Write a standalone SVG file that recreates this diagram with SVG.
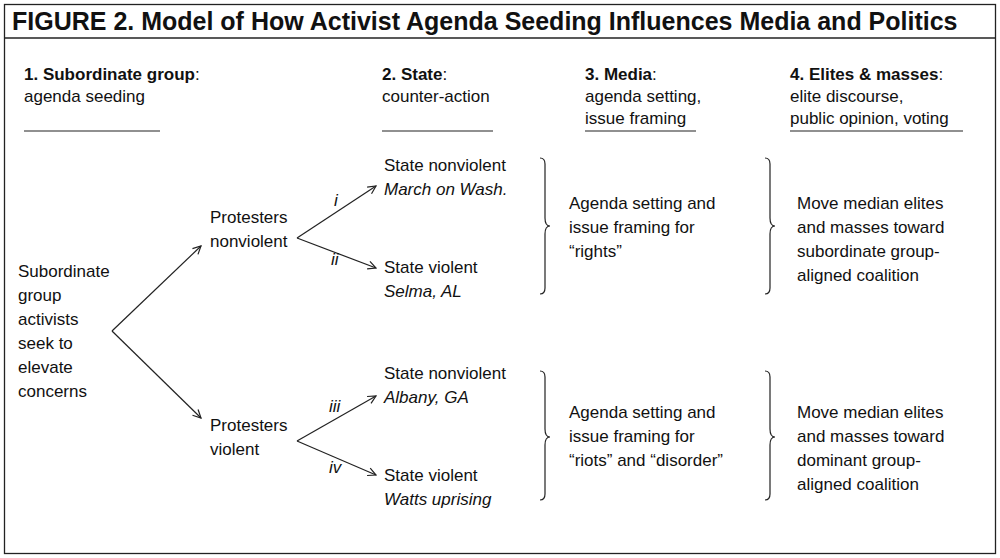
<svg xmlns="http://www.w3.org/2000/svg" width="1000" height="558" viewBox="0 0 1000 558">
<style>
text{font-family:"Liberation Sans",Arial,sans-serif;font-size:17px;fill:#111}
.b{font-weight:bold}
.i{font-style:italic}
.ln{stroke:#222;stroke-width:1.2;fill:none}
</style>
<defs>
<marker id="a" markerWidth="10" markerHeight="10" refX="9" refY="5" orient="auto" markerUnits="userSpaceOnUse">
<path d="M1,1 L9,5 L1,9" fill="none" stroke="#222" stroke-width="1.2"/>
</marker>
</defs>
<rect x="0" y="0" width="1000" height="558" fill="#fff"/>
<rect x="4.5" y="4.5" width="991" height="549" fill="none" stroke="#222" stroke-width="1.3"/>
<line x1="4" y1="38" x2="996" y2="38" stroke="#222" stroke-width="1.3"/>
<text x="12" y="30" class="b" style="font-size:25px">FIGURE 2. Model of How Activist Agenda Seeding Influences Media and Politics</text>
<g id="headers">
<text x="24" y="80"><tspan class="b">1.  Subordinate group</tspan>:</text>
<text x="24" y="102">agenda seeding</text>
<line class="ln" x1="24" y1="131" x2="160" y2="131"/>
<text x="382" y="80"><tspan class="b">2.  State</tspan>:</text>
<text x="382" y="102">counter-action</text>
<line class="ln" x1="382" y1="131" x2="493" y2="131"/>
<text x="585" y="80"><tspan class="b">3.  Media</tspan>:</text>
<text x="585" y="102">agenda setting,</text>
<text x="585" y="124">issue framing</text>
<line class="ln" x1="585" y1="131" x2="696" y2="131"/>
<text x="790" y="80"><tspan class="b">4.  Elites &amp; masses</tspan>:</text>
<text x="790" y="102">elite discourse,</text>
<text x="790" y="124">public opinion, voting</text>
<line class="ln" x1="790" y1="131" x2="963" y2="131"/>
</g>
<g id="n-start"><text x="18" y="277">Subordinate</text><text x="18" y="301">group</text><text x="18" y="325">activists</text><text x="18" y="349">seek to</text><text x="18" y="373">elevate</text><text x="18" y="397">concerns</text></g>
<g id="n-pn"><text x="210" y="223">Protesters</text><text x="210" y="247">nonviolent</text></g>
<g id="n-pv"><text x="210" y="431">Protesters</text><text x="210" y="455">violent</text></g>
<g id="n-s1"><text x="384" y="171">State nonviolent</text><text x="384" y="195" class="i">March on Wash.</text></g>
<g id="n-s2"><text x="384" y="273">State violent</text><text x="384" y="297" class="i">Selma, AL</text></g>
<g id="n-s3"><text x="384" y="379">State nonviolent</text><text x="384" y="403" class="i">Albany, GA</text></g>
<g id="n-s4"><text x="384" y="481">State violent</text><text x="384" y="505" class="i">Watts uprising</text></g>
<g id="n-m1"><text x="569" y="209">Agenda setting and</text><text x="569" y="233">issue framing for</text><text x="569" y="257">“rights”</text></g>
<g id="n-m2"><text x="569" y="418">Agenda setting and</text><text x="569" y="442">issue framing for</text><text x="569" y="466">“riots” and “disorder”</text></g>
<g id="n-e1"><text x="797" y="209">Move median elites</text><text x="797" y="233">and masses toward</text><text x="797" y="257">subordinate group-</text><text x="797" y="281">aligned coalition</text></g>
<g id="n-e2"><text x="797" y="418">Move median elites</text><text x="797" y="442">and masses toward</text><text x="797" y="466">dominant group-</text><text x="797" y="490">aligned coalition</text></g>
<g id="connectors">
<line class="ln" x1="112" y1="331" x2="201" y2="246" marker-end="url(#a)"/>
<line class="ln" x1="112" y1="331" x2="201" y2="418" marker-end="url(#a)"/>
<line class="ln" x1="297" y1="238" x2="376" y2="186" marker-end="url(#a)"/>
<line class="ln" x1="297" y1="238" x2="376" y2="268" marker-end="url(#a)"/>
<line class="ln" x1="297" y1="441" x2="376" y2="396" marker-end="url(#a)"/>
<line class="ln" x1="297" y1="441" x2="376" y2="475" marker-end="url(#a)"/>
<text x="334" y="206" class="i">i</text>
<text x="331" y="265" class="i">ii</text>
<text x="329" y="412" class="i">iii</text>
<text x="329" y="473" class="i">iv</text>
<path class="ln" d="M540,158 Q545,158 545,164 L545,218 Q545,226 550,226 Q545,226 545,234 L545,288 Q545,294 540,294"/>
<path class="ln" d="M540,371 Q545,371 545,377 L545,429 Q545,437 550,437 Q545,437 545,445 L545,494 Q545,500 540,500"/>
<path class="ln" d="M765,158 Q770,158 770,164 L770,218 Q770,226 775,226 Q770,226 770,234 L770,288 Q770,294 765,294"/>
<path class="ln" d="M765,371 Q770,371 770,377 L770,429 Q770,437 775,437 Q770,437 770,445 L770,494 Q770,500 765,500"/>
</g>
</svg>
